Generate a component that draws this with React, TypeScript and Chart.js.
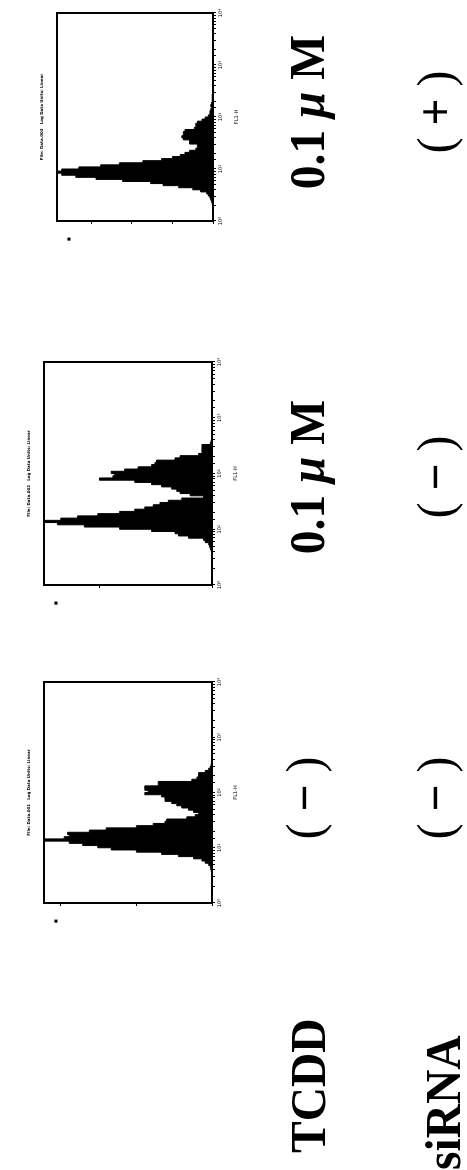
import React, { useEffect, useRef } from "react";
import { Chart, registerables } from "chart.js";

Chart.register(...registerables);

// 100 histogram channels, 0.04 decade each, spanning 10^0 .. 10^4 (log fluorescence)
const LOG_MIN = 1;
const LOG_MAX = 10000;

// Panel 1: TCDD (−), siRNA (−)
const PANEL1_COUNTS = [
  0, 0, 0, 0, 0, 0, 0, 0, 0, 0,
  0, 0, 0, 0, 0.4, 0.7, 1, 2, 4, 6,
  11, 20, 30, 45, 60, 68, 77, 85, 100, 88,
  85, 86, 73, 63, 45, 35, 28, 27, 15, 10,
  8, 11, 14, 18, 21, 24, 28, 28, 30, 40,
  38, 40, 40, 32, 32, 12, 9, 8, 8, 4,
  2, 1, 0.5, 0, 0, 0, 0, 0, 0, 0,
  0, 0, 0, 0, 0, 0, 0, 0, 0, 0,
  0, 0, 0, 0, 0, 0, 0, 0, 0, 0,
  0, 0, 0, 0, 0, 0, 0, 0, 0, 0,
];

// Panel 2: TCDD 0.1 μM, siRNA (−)
const PANEL2_COUNTS = [
  0, 0, 0, 0, 0, 0, 0, 0, 0, 0,
  0, 0, 0, 0, 0, 0.5, 1, 1.5, 2, 4,
  5, 14, 20, 22, 36, 55, 76, 92, 100, 90,
  80, 68, 55, 46, 40, 35, 31, 26, 18, 5,
  13, 19, 21, 24, 30, 36, 46, 67, 59, 58,
  60, 52, 44, 36, 34, 33, 22, 19, 8, 6,
  6, 6, 6, 1, 0.5, 0, 0, 0, 0, 0,
  0, 0, 0, 0, 0, 0, 0, 0, 0, 0,
  0, 0, 0, 0, 0, 0, 0, 0, 0, 0,
  0, 0, 0, 0, 0, 0, 0, 0, 0, 0,
];

// Panel 3: TCDD 0.1 μM, siRNA (+)
const PANEL3_COUNTS = [
  0, 0, 0, 0, 0, 0, 0, 0, 0.5, 1,
  1.5, 2, 3, 4, 8, 13, 22, 32, 40, 58,
  75, 88, 97, 100, 97, 86, 72, 60, 45, 33,
  26, 21, 18, 15, 11, 10, 10, 15, 15, 19,
  20, 19, 19, 18, 12, 11, 11, 10, 7, 5,
  3, 2, 2, 1.5, 1, 1.5, 1, 0.5, 0.5, 0.5,
  0.5, 0, 0, 0, 0, 0, 0, 0, 0, 0,
  0, 0, 0, 0, 0, 0, 0, 0, 0, 0,
  0, 0, 0, 0, 0, 0, 0, 0, 0, 0,
  0, 0, 0, 0, 0, 0, 0, 0, 0, 0,
];

const PANEL1_COUNT_TICKS = [0, 45, 90];
const PANEL2_COUNT_TICKS = [0, 67];
const PANEL3_COUNT_TICKS = [0, 26, 52, 78];

const PANEL_TITLES = ["File: Data.001   Log Data Units: Linear", "File: Data.002   Log Data Units: Linear", "File: Data.003   Log Data Units: Linear"];
const LOG_AXIS_TITLE = "FL1-H";
const COUNT_AXIS_LABEL = "■";
const SUPERSCRIPTS = ["⁰", "¹", "²", "³", "⁴"];

const ROW_LABELS = ["TCDD", "siRNA"];
const TCDD_LABELS = ["(−)", "0.1 μM", "0.1 μM"];
const SIRNA_LABELS = ["(−)", "(−)", "(+)"];

// layout (in the unrotated figure, 1170 x 467)
const PANEL_BOXES = [
  { left: 267, top: 44, width: 221, height: 168 },
  { left: 585, top: 44, width: 223, height: 168 },
  { left: 949, top: 57, width: 208, height: 156 },
];
const COLUMN_CENTERS = [372, 693, 1058];
const PAD = 30;

const framePlugin = {
  id: "frameNotes",
  afterDraw(chart: any, _args: any, opts: any) {
    const { ctx, chartArea: a } = chart;
    ctx.save();
    ctx.strokeStyle = "#000";
    ctx.lineWidth = 2;
    ctx.strokeRect(a.left, a.top, a.right - a.left, a.bottom - a.top);
    ctx.fillStyle = "#000";
    ctx.font = 'bold 4px "DejaVu Sans"';
    ctx.textAlign = "center";
    ctx.textBaseline = "middle";
    ctx.fillText(opts.title, (a.left + a.right) / 2, a.top - 15);
    ctx.font = '4px "DejaVu Sans"';
    ctx.fillText(COUNT_AXIS_LABEL, a.left - 18, a.top + 12);
    ctx.restore();
  },
};

function isPow10(v: number) {
  const l = Math.log10(v);
  return Math.abs(l - Math.round(l)) < 1e-9;
}

function Histogram({ counts, ticks, title, box }: any) {
  const ref = useRef<HTMLCanvasElement | null>(null);
  useEffect(() => {
    if (!ref.current) return;
    const labels = counts.map((_: number, i: number) => String(i));
    const chart = new Chart(ref.current, {
      type: "line",
      data: {
        labels,
        datasets: [
          {
            data: counts,
            stepped: "middle",
            borderColor: "#000",
            borderWidth: 1,
            backgroundColor: "#000",
            fill: "origin",
            pointRadius: 0,
            xAxisID: "x",
            yAxisID: "y",
          },
        ],
      },
      options: {
        responsive: false,
        animation: false,
        devicePixelRatio: 1,
        layout: { padding: { top: PAD, right: PAD, left: 0, bottom: 0 } },
        plugins: {
          legend: { display: false },
          tooltip: { enabled: false },
          frameNotes: { title },
        } as any,
        scales: {
          x: { type: "category", display: false, offset: true },
          xlog: {
            type: "logarithmic",
            position: "bottom",
            min: LOG_MIN,
            max: LOG_MAX,
            afterFit: (s: any) => {
              s.height = PAD;
              s.paddingLeft = 0;
              s.paddingRight = 0;
            },
            border: { display: true, color: "#000", width: 2 },
            grid: { drawOnChartArea: false, drawTicks: true, tickLength: 3, color: "#000", lineWidth: 1 },
            ticks: {
              autoSkip: false,
              maxRotation: 0,
              minRotation: 0,
              padding: 2,
              color: "#000",
              font: { size: 5, family: "DejaVu Sans" },
              callback: (v: any) => {
                const n = Number(v);
                return isPow10(n) ? "10" + SUPERSCRIPTS[Math.round(Math.log10(n))] : "";
              },
            },
            title: {
              display: true,
              text: LOG_AXIS_TITLE,
              color: "#000",
              font: { size: 5, family: "DejaVu Sans" },
              padding: { top: 3, bottom: 3 },
            },
          },
          y: {
            type: "linear",
            min: 0,
            max: 100,
            afterFit: (s: any) => {
              s.width = PAD;
              s.paddingTop = 0;
              s.paddingBottom = 0;
            },
            afterBuildTicks: (s: any) => {
              s.ticks = ticks.map((v: number) => ({ value: v }));
            },
            border: { display: true, color: "#000", width: 2 },
            grid: { drawOnChartArea: false, drawTicks: true, tickLength: 3, color: "#000", lineWidth: 1 },
            ticks: { display: false },
          },
        } as any,
      },
      plugins: [framePlugin as any],
    } as any);
    return () => chart.destroy();
  }, []);
  const w = box.width + 2 * PAD;
  const h = box.height + 2 * PAD;
  return (
    <canvas
      ref={ref}
      width={w}
      height={h}
      style={{ position: "absolute", left: box.left - PAD, top: box.top - PAD, width: w, height: h }}
    />
  );
}

const SERIF = '"Liberation Serif", "Times New Roman", serif';
const FONT = 50;

function BigText({ children, cx, left, baseline }: any) {
  const top = baseline - FONT * 0.8375;
  const style: any = {
    position: "absolute",
    top,
    fontFamily: SERIF,
    fontSize: FONT,
    lineHeight: `${FONT}px`,
    fontWeight: 700,
    whiteSpace: "pre",
    color: "#000",
  };
  if (cx !== undefined) {
    style.left = cx - 150;
    style.width = 300;
    style.textAlign = "center";
    style.transform = "scaleX(0.95)";
    style.transformOrigin = "50% 50%";
  } else {
    style.left = left;
    style.transform = "scaleX(0.95)";
    style.transformOrigin = "0 50%";
  }
  return <div style={style}>{children}</div>;
}

function renderLabel(s: string) {
  if (s.startsWith("(")) {
    const sign = s.slice(1, -1);
    return (
      <>
        <span style={{ fontWeight: 400 }}>(</span> {sign} <span style={{ fontWeight: 400 }}>)</span>
      </>
    );
  }
  const parts = s.split("μ");
  return (
    <>
      {parts[0]}
      <span style={{ fontStyle: "italic" }}>μ</span> {parts[1]}
    </>
  );
}

export default function App() {
  const countSets = [PANEL1_COUNTS, PANEL2_COUNTS, PANEL3_COUNTS];
  const tickSets = [PANEL1_COUNT_TICKS, PANEL2_COUNT_TICKS, PANEL3_COUNT_TICKS];
  return (
    <div
      style={{
        position: "absolute",
        left: 0,
        top: 0,
        width: 467,
        height: 1170,
        overflow: "hidden",
        background: "#fff",
      }}
    >
      <div
        style={{
          position: "absolute",
          left: 0,
          top: 0,
          width: 1170,
          height: 467,
          transformOrigin: "0 0",
          transform: "translate(0px, 1170px) rotate(-90deg)",
          background: "#fff",
        }}
      >
        {PANEL_BOXES.map((box, i) => (
          <Histogram key={i} counts={countSets[i]} ticks={tickSets[i]} title={PANEL_TITLES[i]} box={box} />
        ))}
        <BigText left={17} baseline={325}>{ROW_LABELS[0]}</BigText>
        <BigText left={0} baseline={460}>{ROW_LABELS[1]}</BigText>
        {TCDD_LABELS.map((t, i) => (
          <BigText key={"t" + i} cx={COLUMN_CENTERS[i]} baseline={t.startsWith("(") ? 321 : 324}>
            {renderLabel(t)}
          </BigText>
        ))}
        {SIRNA_LABELS.map((t, i) => (
          <BigText key={"s" + i} cx={COLUMN_CENTERS[i]} baseline={452}>
            {renderLabel(t)}
          </BigText>
        ))}
      </div>
    </div>
  );
}
